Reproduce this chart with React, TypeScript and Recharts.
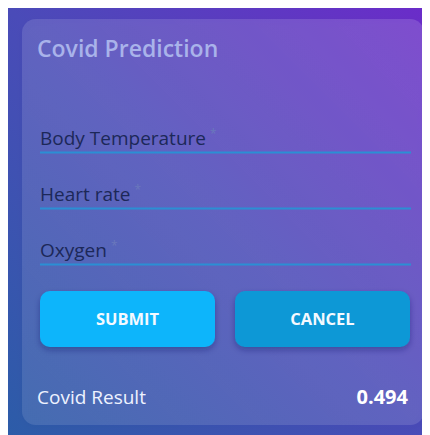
import React from 'react';
import { ComposedChart, Customized } from 'recharts';

const titleText = 'Covid Prediction';
const fieldLabels = ['Body Temperature', 'Heart rate', 'Oxygen'];
const buttonLabels = ['SUBMIT', 'CANCEL'];
const buttonColors = ['#0bb5fb', '#0a98d6'];
const resultLabel = 'Covid Result';
const resultValues = [0.494];

const W = 422;
const H = 427;
const FONT = "'Open Sans', 'Noto Sans', sans-serif";

const Form = () => {
  return (
    <g>
      <defs>
        <linearGradient id="bg" x1="0" y1="1" x2="1" y2="0">
          <stop offset="0%" stopColor="#2c5ca8" />
          <stop offset="50%" stopColor="#4a4bb8" />
          <stop offset="100%" stopColor="#6b2cc9" />
        </linearGradient>
        <linearGradient id="card" x1="0" y1="1" x2="1" y2="0">
          <stop offset="0%" stopColor="#ffffff" stopOpacity="0.10" />
          <stop offset="100%" stopColor="#ffffff" stopOpacity="0.14" />
        </linearGradient>
        <filter id="cardShadow" x="-10%" y="-10%" width="120%" height="120%">
          <feDropShadow dx="0" dy="2" stdDeviation="3" floodColor="#1a2060" floodOpacity="0.25" />
        </filter>
        <filter id="btnShadow" x="-10%" y="-20%" width="120%" height="160%">
          <feDropShadow dx="0" dy="3" stdDeviation="3" floodColor="#102060" floodOpacity="0.35" />
        </filter>
      </defs>
      <rect x={0} y={0} width={W} height={H} fill="url(#bg)" />
      <rect x={14} y={11} width={402} height={406} rx={14} fill="url(#card)" filter="url(#cardShadow)" />
      <text x={29} y={49} fontFamily={FONT} fontSize={23} fontWeight={600} fill="#a9b3ea">
        {titleText}
      </text>
      {fieldLabels.map((label, i) => {
        const base = 137 + i * 56;
        return (
          <g key={label}>
            <text x={32} y={base} fontFamily={FONT} fontSize={19} fill="#1c2858">
              {label}
              <tspan dx={4} dy={-7} fontSize={12} fill="#6a78bc">*</tspan>
            </text>
            <line x1={32} x2={403} y1={base + 7.5} y2={base + 7.5} stroke="#2b8fd4" strokeWidth={1.8} />
          </g>
        );
      })}
      {buttonLabels.map((label, i) => {
        const x = 32 + i * 195;
        return (
          <g key={label}>
            <rect x={x} y={283} width={175} height={56} rx={10} fill={buttonColors[i]} filter="url(#btnShadow)" />
            <text
              x={x + 87.5}
              y={317}
              textAnchor="middle"
              fontFamily={FONT}
              fontSize={16.5}
              fontWeight={700}
              fill="#f4f9ff"
            >
              {label}
            </text>
          </g>
        );
      })}
      <text x={29} y={396} fontFamily={FONT} fontSize={19} fill="#eef2ff">
        {resultLabel}
      </text>
      <text x={400} y={396} textAnchor="end" fontFamily={FONT} fontSize={20} fontWeight={700} fill="#ffffff">
        {resultValues[0].toFixed(3)}
      </text>
    </g>
  );
};

export default function App() {
  const data = resultValues.map((v) => ({ name: resultLabel, value: v }));
  return (
    <div style={{ width: W, height: H }}>
      <ComposedChart width={W} height={H} data={data} margin={{ top: 0, right: 0, bottom: 0, left: 0 }}>
        <Customized component={Form} />
      </ComposedChart>
    </div>
  );
}
